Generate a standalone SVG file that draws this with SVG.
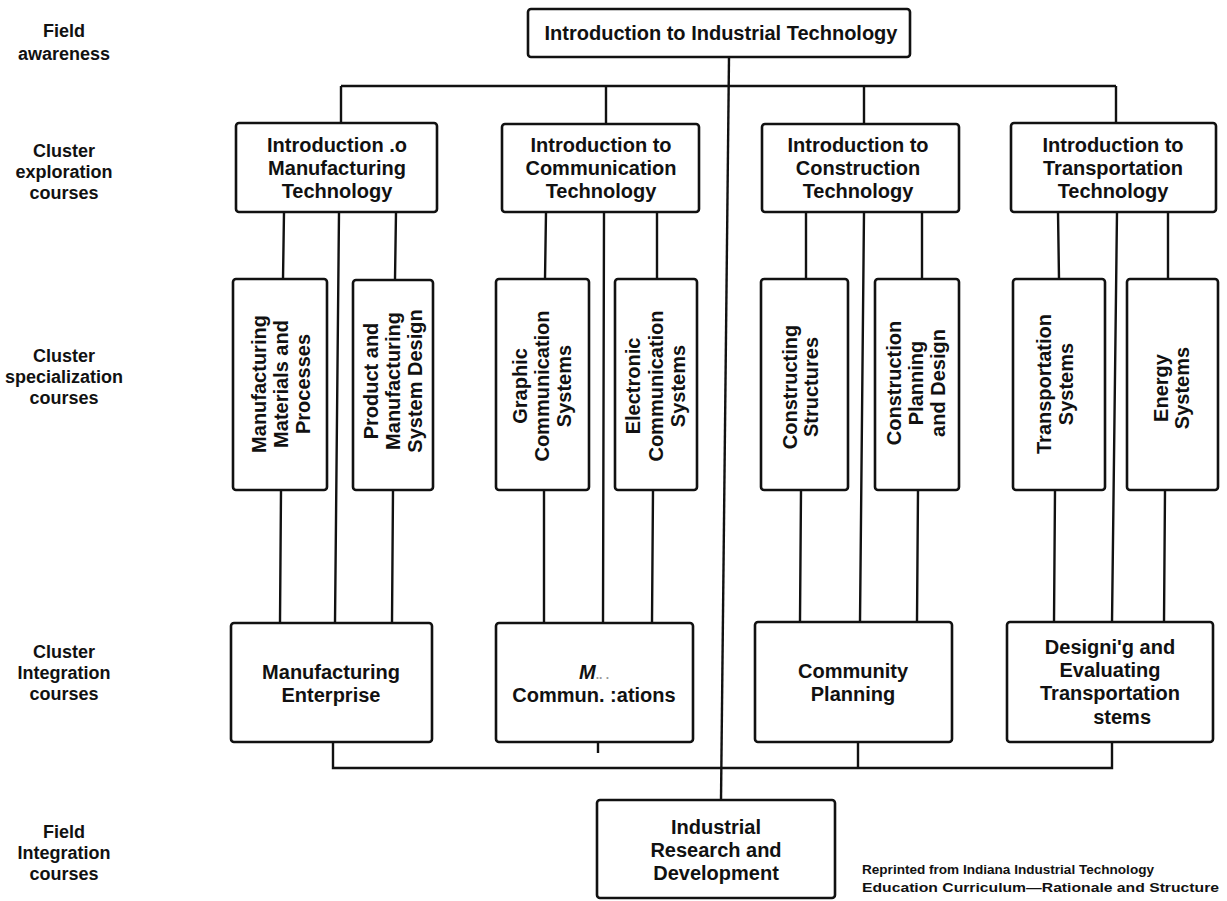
<svg xmlns="http://www.w3.org/2000/svg" width="1227" height="901" viewBox="0 0 1227 901">
<style>
text{font-family:"Liberation Sans",Arial,sans-serif;font-weight:bold;font-size:20px;fill:#111;text-anchor:middle}
.lab{font-size:18px}
.box{fill:#fff;stroke:#111;stroke-width:2.6}
.ln{stroke:#111;stroke-width:2.4;fill:none}
.note{font-size:13px;text-anchor:start}
</style>
<rect width="1227" height="901" fill="#fff"/>
<g id="labels">
<text class="lab" x="64" y="37">Field</text><text class="lab" x="64" y="60">awareness</text>
<text class="lab" x="64" y="157">Cluster</text><text class="lab" x="64" y="178">exploration</text><text class="lab" x="64" y="199">courses</text>
<text class="lab" x="64" y="362">Cluster</text><text class="lab" x="64" y="383">specialization</text><text class="lab" x="64" y="404">courses</text>
<text class="lab" x="64" y="658">Cluster</text><text class="lab" x="64" y="679">Integration</text><text class="lab" x="64" y="700">courses</text>
<text class="lab" x="64" y="838">Field</text><text class="lab" x="64" y="859">Integration</text><text class="lab" x="64" y="880">courses</text>
</g>
<g id="connectors">
<path class="ln" d="M729 57 L721 800"/>
<path class="ln" d="M341 86 H1116 M341 86 V123 M606 86 V123 M864 86 V123 M1116 86 V123"/>
<path class="ln" d="M284 212 L283 279 M339 212 L335 623 M396 212 L395 279 M281 490 L280 623 M393 490 L392 623"/>
<path class="ln" d="M546 212 L545 279 M604 212 L603 623 M657 212 L657 279 M544 490 L544 623 M653 490 L652 623"/>
<path class="ln" d="M806 212 L806 279 M864 212 L860 622 M922 212 L922 279 M801 490 L800 622 M918 490 L917 622"/>
<path class="ln" d="M1058 212 L1059 279 M1117 212 L1112 623 M1168 212 L1168 279 M1055 490 L1054 623 M1165 490 L1164 623"/>
<path class="ln" d="M333 742 V768 H1112 V742 M858 742 V768 M598 742 V753"/>
</g>
<g id="n-top"><rect class="box" x="528" y="9" width="382" height="48" rx="3"/><text x="721" y="40">Introduction to Industrial Technology</text></g>
<g id="n-exp-mfg"><rect class="box" x="236" y="123" width="201" height="89" rx="3"/><text x="337" y="152">Introduction .o</text><text x="337" y="175">Manufacturing</text><text x="337" y="198">Technology</text></g>
<g id="n-exp-comm"><rect class="box" x="502" y="124" width="197" height="88" rx="3"/><text x="601" y="152">Introduction to</text><text x="601" y="175">Communication</text><text x="601" y="198">Technology</text></g>
<g id="n-exp-con"><rect class="box" x="762" y="124" width="197" height="88" rx="3"/><text x="858" y="152">Introduction to</text><text x="858" y="175">Construction</text><text x="858" y="198">Technology</text></g>
<g id="n-exp-tra"><rect class="box" x="1011" y="123" width="205" height="89" rx="3"/><text x="1113" y="152">Introduction to</text><text x="1113" y="175">Transportation</text><text x="1113" y="198">Technology</text></g>
<g id="n-spec-1"><rect class="box" x="233" y="279" width="94" height="211" rx="3"/><text transform="translate(266 384) rotate(-90)">Manufacturing</text><text transform="translate(288 384) rotate(-90)">Materials and</text><text transform="translate(310 384) rotate(-90)">Processes</text></g>
<g id="n-spec-2"><rect class="box" x="353" y="280" width="80" height="210" rx="3"/><text transform="translate(378 381) rotate(-90)">Product and</text><text transform="translate(400 381) rotate(-90)">Manufacturing</text><text transform="translate(422 381) rotate(-90)">System Design</text></g>
<g id="n-spec-3"><rect class="box" x="496" y="279" width="93" height="211" rx="3"/><text transform="translate(527 386) rotate(-90)">Graphic</text><text transform="translate(549 386) rotate(-90)">Communication</text><text transform="translate(571 386) rotate(-90)">Systems</text></g>
<g id="n-spec-4"><rect class="box" x="615" y="279" width="82" height="211" rx="3"/><text transform="translate(640 386) rotate(-90)">Electronic</text><text transform="translate(663 386) rotate(-90)">Communication</text><text transform="translate(685 386) rotate(-90)">Systems</text></g>
<g id="n-spec-5"><rect class="box" x="761" y="279" width="87" height="211" rx="3"/><text transform="translate(797 387) rotate(-90)">Constructing</text><text transform="translate(818 387) rotate(-90)">Structures</text></g>
<g id="n-spec-6"><rect class="box" x="875" y="279" width="84" height="211" rx="3"/><text transform="translate(901 383) rotate(-90)">Construction</text><text transform="translate(923 383) rotate(-90)">Planning</text><text transform="translate(945 383) rotate(-90)">and Design</text></g>
<g id="n-spec-7"><rect class="box" x="1013" y="279" width="92" height="211" rx="3"/><text transform="translate(1051 384) rotate(-90)">Transportation</text><text transform="translate(1073 384) rotate(-90)">Systems</text></g>
<g id="n-spec-8"><rect class="box" x="1127" y="279" width="91" height="211" rx="3"/><text transform="translate(1168 388) rotate(-90)">Energy</text><text transform="translate(1189 388) rotate(-90)">Systems</text></g>
<g id="n-int-mfg"><rect class="box" x="231" y="623" width="201" height="119" rx="3"/><text x="331" y="679">Manufacturing</text><text x="331" y="702">Enterprise</text></g>
<g id="n-int-comm"><rect class="box" x="496" y="623" width="197" height="119" rx="3"/><text x="594" y="679"><tspan font-style="italic">M</tspan><tspan fill="#999" font-size="12">.. .</tspan></text><text x="594" y="702">Commun. :ations</text></g>
<g id="n-int-con"><rect class="box" x="755" y="622" width="197" height="120" rx="3"/><text x="853" y="678">Community</text><text x="853" y="701">Planning</text></g>
<g id="n-int-tra"><rect class="box" x="1007" y="622" width="206" height="120" rx="3"/><text x="1110" y="654">Designi'g and</text><text x="1110" y="677">Evaluating</text><text x="1110" y="700">Transportation</text><text x="1151" y="724" style="text-anchor:end">stems</text></g>
<g id="n-field"><rect class="box" x="597" y="800" width="238" height="98" rx="3"/><text x="716" y="834">Industrial</text><text x="716" y="857">Research and</text><text x="716" y="880">Development</text></g>
<g id="note"><text class="note" x="862" y="874" textLength="292" lengthAdjust="spacingAndGlyphs">Reprinted from Indiana Industrial Technology</text><text class="note" x="862" y="892" textLength="357" lengthAdjust="spacingAndGlyphs">Education Curriculum—Rationale and Structure</text></g>
</svg>
